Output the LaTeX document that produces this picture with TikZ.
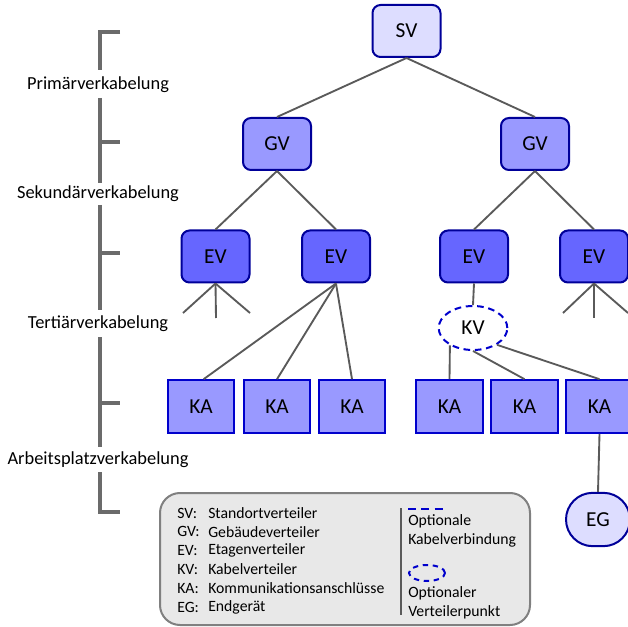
\documentclass[tikz,border=0pt]{standalone}
\usepackage{fontspec}
\setmainfont{Carlito}
\usetikzlibrary{shapes.geometric,shapes.misc}
\definecolor{boxedge}{HTML}{000099}
\definecolor{kaedge}{HTML}{0000CC}
\definecolor{fillsv}{HTML}{DDDDFF}
\definecolor{fillgv}{HTML}{9999FF}
\definecolor{fillev}{HTML}{6666FF}
\definecolor{wire}{HTML}{5A5A5A}
\definecolor{legfill}{HTML}{E8E8E8}
\definecolor{legedge}{HTML}{808080}
\begin{document}
\begin{tikzpicture}[x=0.75pt,y=-0.75pt,
  unit/.style={draw=boxedge,line width=1.5pt,rounded corners=6pt,
    minimum width=51pt,minimum height=39pt,inner sep=0pt,
    font=\fontsize{16}{18}\selectfont},
  svbox/.style={unit,fill=fillsv},
  gvbox/.style={unit,fill=fillgv},
  evbox/.style={unit,fill=fillev},
  kabox/.style={draw=kaedge,line width=1.5pt,fill=fillgv,
    minimum width=50pt,minimum height=39.5pt,inner sep=0pt,
    font=\fontsize{16}{18}\selectfont},
  kvnode/.style={ellipse,draw=kaedge,line width=1.5pt,dash pattern=on 5pt off 3.5pt,
    minimum width=51.5pt,minimum height=33pt,inner sep=0pt,
    font=\fontsize{16}{18}\selectfont},
  egnode/.style={rounded rectangle,draw=boxedge,line width=1.5pt,fill=fillsv,
    minimum width=48pt,minimum height=40pt,inner sep=0pt,
    font=\fontsize{16}{18}\selectfont},
  wireline/.style={draw=wire,line width=1.4pt},
  bracket/.style={draw=wire!90,line width=3pt},
  level/.style={font=\fontsize{13.8}{16}\selectfont,inner sep=0pt},
  legtext/.style={anchor=west,font=\fontsize{11.8}{14}\selectfont,inner sep=0pt},
]
\useasboundingbox (0,0) rectangle (628,627);

% --- hierarchy nodes ---
\node[svbox] (sv) at (406.5,31) {SV};
\node[gvbox] (gv1) at (277,144) {GV};
\node[gvbox] (gv2) at (535,144) {GV};
\node[evbox] (ev1) at (215.5,256.5) {EV};
\node[evbox] (ev2) at (336,256.5) {EV};
\node[evbox] (ev3) at (474,256.5) {EV};
\node[evbox] (ev4) at (594,256.5) {EV};
\node[kvnode] (kv) at (473,328) {KV};
\node[kabox] (ka1) at (201,406.5) {KA};
\node[kabox] (ka2) at (277,406.5) {KA};
\node[kabox] (ka3) at (352,406.5) {KA};
\node[kabox] (ka4) at (449.5,406.5) {KA};
\node[kabox] (ka5) at (524.5,406.5) {KA};
\node[kabox] (ka6) at (599.5,406.5) {KA};
\node[egnode] (eg) at (598,519.5) {EG};

% --- cabling ---
\draw[wireline] (sv.south) -- (gv1.north);
\draw[wireline] (sv.south) -- (gv2.north);
\draw[wireline] (gv1.south) -- (ev1.north);
\draw[wireline] (gv1.south) -- (ev2.north);
\draw[wireline] (gv2.south) -- (ev3.north);
\draw[wireline] (gv2.south) -- (ev4.north);
\coordinate (f1a) at (183,313);
\coordinate (f1b) at (216,318);
\coordinate (f1c) at (250,313);
\draw[wireline] (ev1.south) -- (f1a);
\draw[wireline] (ev1.south) -- (f1b);
\draw[wireline] (ev1.south) -- (f1c);
\coordinate (f4a) at (563,313);
\coordinate (f4b) at (594,318);
\coordinate (f4c) at (628,313);
\draw[wireline] (ev4.south) -- (f4a);
\draw[wireline] (ev4.south) -- (f4b);
\draw[wireline] (ev4.south) -- (f4c);
\draw[wireline] (ev2.south) -- ([xshift=2pt]ka1.north);
\draw[wireline] (ev2.south) -- (ka2.north);
\draw[wireline] (ev2.south) -- (ka3.north);
\draw[wireline] (ev3.south) -- (kv.north);
\draw[wireline] (kv.-143) -- (ka4.north);
\draw[wireline] (kv.south) -- (ka5.north);
\draw[wireline] (kv.-35) -- (ka6.north);
\draw[wireline] (ka6.south) -- (eg.north);

% --- cabling levels ---
\draw[bracket] (120,32) -- (100,32) -- (100,70);
\draw[bracket] (100,98) -- (100,183);
\draw[bracket] (100,142) -- (120,142);
\draw[bracket] (100,205) -- (100,310);
\draw[bracket] (100,253) -- (120,253);
\draw[bracket] (100,337) -- (100,447);
\draw[bracket] (100,403) -- (120,403);
\draw[bracket] (100,472) -- (100,512) -- (120,512);
\node[level] (l1) at (98,85) {Primärverkabelung};
\node[level] (l2) at (98,194) {Sekundärverkabelung};
\node[level] (l3) at (98,324) {Tertiärverkabelung};
\node[level] (l4) at (98,460) {Arbeitsplatzverkabelung};

% --- legend ---
\draw[fill=legfill,draw=legedge,line width=1.5pt,rounded corners=15pt]
  (160,493) rectangle (530,625);
\foreach \ab/\txt [count=\i] in {SV/Standortverteiler,GV/Gebäudeverteiler,
    EV/Etagenverteiler,KV/Kabelverteiler,KA/Kommunikationsanschlüsse,EG/Endgerät}{
  \node[legtext] (ab\i) at (177,{513+18.8*(\i-1)}) {\ab:};
  \node[legtext] (tx\i) at (208,{513+18.8*(\i-1)}) {\txt};
}
\coordinate (sepa) at (401,508);
\coordinate (sepb) at (401,615);
\draw[draw=wire,line width=1.1pt] (sepa) -- (sepb);
\coordinate (dla) at (408,509);
\coordinate (dlb) at (445,509);
\draw[draw=kaedge,line width=1.5pt,dash pattern=on 6pt off 4pt] (dla) -- (dlb);
\node[legtext] (o1) at (408,521) {Optionale};
\node[legtext] (o2) at (408,540) {Kabelverbindung};
\node[ellipse,draw=kaedge,line width=1.5pt,dash pattern=on 4pt off 3.5pt,
  minimum width=27pt,minimum height=12pt,inner sep=0pt] (oe) at (427,573) {};
\node[legtext] (o3) at (408,593) {Optionaler};
\node[legtext] (o4) at (408,612) {Verteilerpunkt};
\end{tikzpicture}
\end{document}
